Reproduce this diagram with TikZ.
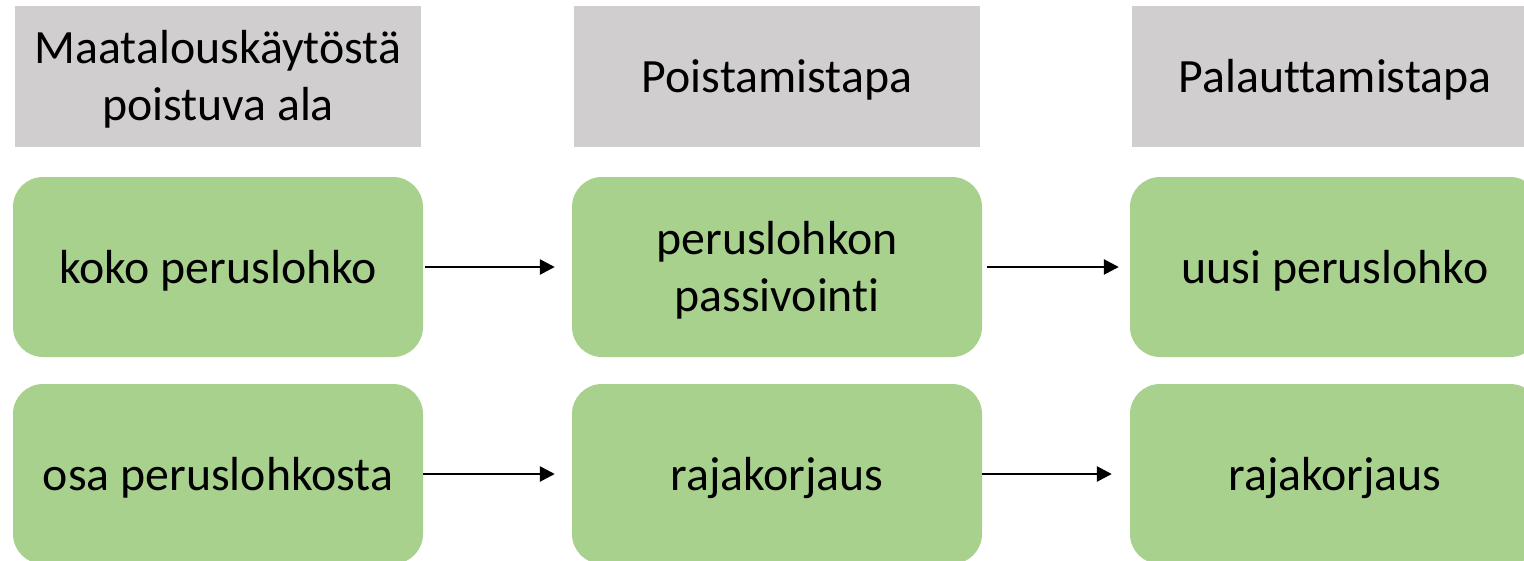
\documentclass[tikz,border=0pt]{standalone}
\usepackage{fontspec}
\setmainfont{Carlito}[Ligatures=NoCommon]
\usetikzlibrary{arrows.meta}
\definecolor{hdrgray}{HTML}{D0CECE}
\definecolor{boxgreen}{HTML}{A9D18E}
\begin{document}
\begin{tikzpicture}[x=1pt,y=-1pt,
  txt/.style={inner sep=0pt, align=center, font=\fontsize{47.8}{56.8}\selectfont},
  one/.style={text height=40pt, text depth=8pt},
  two/.style={text height=96pt, text depth=8pt},
  hdr/.style={txt, fill=hdrgray, minimum width=406pt, minimum height=141pt},
  grn/.style={txt, fill=boxgreen, rounded corners=30pt, minimum width=410pt, minimum height=180pt},
  conn/.style={-{Triangle[length=15pt,width=15pt]}, line width=2.6pt}]
\useasboundingbox (0,0) rectangle (1524,560);
\clip (0,0) rectangle (1524,560);
\node[hdr, two] (h1) at (218,76.5) {Maatalouskäytöstä\\poistuva ala};
\node[hdr, one] (h2) at (777,76.5) {Poistamistapa};
\node[hdr, one] (h3) at (1335,76.5) {Palauttamistapa};
\node[grn, one] (a1) at (218,267) {koko peruslohko};
\node[grn, two] (b1) at (777,267) {peruslohkon\\passivointi};
\node[grn, one] (c1) at (1335,267) {uusi peruslohko};
\node[grn, one] (a2) at (218,474) {osa peruslohkosta};
\node[grn, one] (b2) at (777,474) {rajakorjaus};
\node[grn, one] (c2) at (1335,474) {rajakorjaus};
\draw[conn, shorten <=2pt, shorten >=17pt] (a1.east) -- (b1.west);
\draw[conn, shorten <=5pt, shorten >=11pt] (b1.east) -- (c1.west);
\draw[conn, shorten <=0pt, shorten >=17pt] (a2.east) -- (b2.west);
\draw[conn, shorten <=0pt, shorten >=18pt] (b2.east) -- (c2.west);
\end{tikzpicture}
\end{document}
